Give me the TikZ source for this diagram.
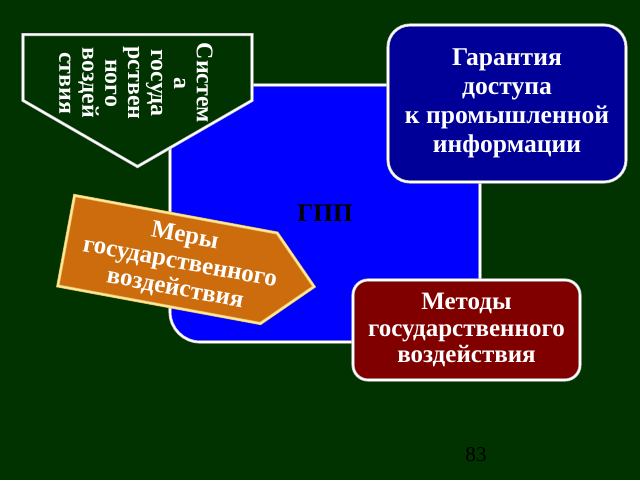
\documentclass[tikz,border=0pt]{standalone}
\usepackage{fontspec}
\setmainfont{Liberation Serif}
\usetikzlibrary{shapes.symbols}
\definecolor{bggreen}{RGB}{0,51,0}
\definecolor{gppblue}{RGB}{0,0,255}
\definecolor{navyfill}{RGB}{0,0,153}
\definecolor{redfill}{RGB}{128,0,0}
\definecolor{rustfill}{RGB}{204,108,12}
\definecolor{paleframe}{RGB}{190,190,190}
\definecolor{goldframe}{RGB}{230,190,90}
\definecolor{goldlight}{RGB}{255,232,160}
\begin{document}
\begin{tikzpicture}[
	frame/.style={draw=paleframe, double=white, double distance=1.2pt, line width=0.5pt},
	goldrim/.style={draw=goldframe, double=goldlight, double distance=1.2pt, line width=0.5pt},
	boxtext/.style={text=white, font=\bfseries\fontsize{17.8}{19}\selectfont, align=center},
	]
	\fill [bggreen] (0,0) rectangle (16,12);
	\useasboundingbox (0,0) rectangle (16,12);
	% centre block
	\node [frame, fill=gppblue, rounded corners=0.75cm, minimum width=7.75cm, minimum height=6.425cm,
		font=\bfseries\fontsize{18}{20}\selectfont] (gpp) at (8.125,6.6625) {ГПП};
	% pentagon at the top left
	\node [frame, fill=bggreen, signal, signal to=east, signal pointer angle=120, rotate=-90,
		minimum width=3.3cm, minimum height=5.725cm, inner sep=0pt] (sys) at (3.4375,10.3125) {};
	\node [boxtext, font=\bfseries\fontsize{17}{16.3}\selectfont, rotate=-90] (sysT) at (3.4,9.925)
		{Систем\\а\\госуда\\рствен\\ного\\воздей\\ствия};
	% arrow shaped box
	\node [goldrim, fill=rustfill, signal, signal to=east, rotate=-10.5,
		minimum width=6.3cm, minimum height=2.3cm, inner sep=0pt] (mery) at (4.1875,5.5125) {};
	\node [boxtext, rotate=-10.5] (meryT) at (4.5,5.425)
		{Меры\\государственного\\воздействия};
	% right boxes
	\node [frame, fill=navyfill, rounded corners=0.55cm, minimum width=5.95cm, minimum height=3.925cm,
		boxtext, font=\bfseries\fontsize{18.2}{20.5}\selectfont] (garant) at (12.675,9.4125)
		{Гарантия\\доступа\\к промышленной\\информации};
	\node [frame, fill=redfill, rounded corners=0.375cm, minimum width=5.675cm, minimum height=2.5cm,
		boxtext] (metod) at (11.6625,3.75)
		{Методы\\государственного\\воздействия};
	\node [font=\fontsize{15}{18}\selectfont] (page) at (11.9,0.625) {83};
\end{tikzpicture}
\end{document}
